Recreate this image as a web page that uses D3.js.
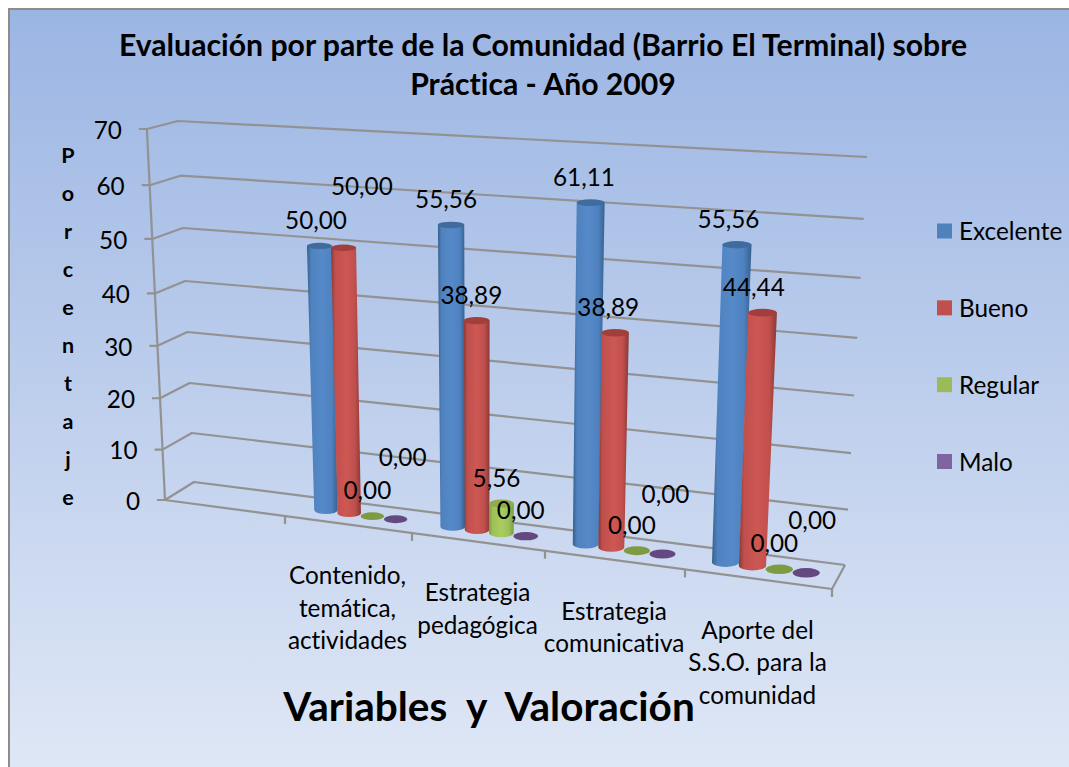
<!DOCTYPE html>
<html><head><meta charset="utf-8">
<script src="https://cdn.jsdelivr.net/npm/d3@7"></script>
<style>html,body{margin:0;padding:0;background:#fff}svg{display:block}text{font-family:Lato,"Open Sans",sans-serif;fill:#000;font-variant-ligatures:none;font-feature-settings:"liga" 0,"clig" 0}</style>
</head><body><svg id="c" width="1069" height="767"></svg>
<script>
const titleLines = ["Evaluación por parte de la Comunidad (Barrio El Terminal) sobre", "Práctica - Año 2009"];
const xTitle = "Variables  y  Valoración";
const yTitle = "Porcentaje";
const yTicks = [0, 10, 20, 30, 40, 50, 60, 70];
const categories = [
  [""],
  ["Contenido,", "temática,", "actividades"],
  ["Estrategia", "pedagógica"],
  ["Estrategia", "comunicativa"],
  ["Aporte del", "S.S.O. para la", "comunidad"]
];
const seriesNames = ["Excelente", "Bueno", "Regular", "Malo"];
const excelente = [null, 50.00, 55.56, 61.11, 55.56];
const bueno     = [null, 50.00, 38.89, 38.89, 44.44];
const regular   = [null, 0.00, 5.56, 0.00, 0.00];
const malo      = [null, 0.00, 0.00, 0.00, 0.00];
const seriesValues = [excelente, bueno, regular, malo];

const colors = [
  {key:"#4F81BD", edge:"#36618f", mid:"#4f82bf", light:"#5589c8", top:"#3f6b9f", flat:"#3f6b9f"},
  {key:"#C0504D", edge:"#8a3835", mid:"#c0504d", light:"#cd5753", top:"#a13f3c", flat:"#a13f3c"},
  {key:"#9BBB59", edge:"#7d9a43", mid:"#9dc057", light:"#a9cd60", top:"#8eac4e", flat:"#7f9b42"},
  {key:"#8064A2", edge:"#5d4679", mid:"#8064a2", light:"#8a6daf", top:"#63497f", flat:"#63497f"}
];
// manually displaced data labels in the source chart: [category, series] -> shift
const labelNudge = new Map([["1|1",[22,-36]],["1|3",[12,-36]],["3|3",[8,-34]],["4|3",[11,-27]]]);

const svg = d3.select("#c");
const defs = svg.append("defs");
const bg = defs.append("linearGradient").attr("id","bg").attr("x1",0).attr("y1",0).attr("x2",0).attr("y2",1);
bg.append("stop").attr("offset",0).attr("stop-color","#9bb5e3");
bg.append("stop").attr("offset",1).attr("stop-color","#e0e8f6");
colors.forEach((c,i)=>{
  const g = defs.append("linearGradient").attr("id","cyl"+i).attr("x1",0).attr("y1",0).attr("x2",1).attr("y2",0);
  [[0,c.edge],[.14,c.mid],[.5,c.light],[.8,c.mid],[1,c.edge]].forEach(s=>g.append("stop").attr("offset",s[0]).attr("stop-color",s[1]));
});
svg.append("rect").attr("x",9).attr("y",9).attr("width",1070).attr("height",770)
  .attr("fill","url(#bg)").attr("stroke","#8c8c8c").attr("stroke-width",2);

// ---- perspective scales
const nCat = categories.length;
const xFront = d3.scaleLinear().domain(d3.range(nCat+1)).range([165,285,412,545,685,832]);
const xBackFromFront = d3.scaleLinear().domain([165,832]).range([194,845]);
const yFrontLine = d3.scaleLinear().domain([165,832]).range([500,589]);
const yBackLine = d3.scaleLinear().domain([194,845]).range([482,565]);
const hFrac = d3.scaleLinear().domain(yTicks).range([0,.1357,.2742,.4155,.5568,.7036,.8485,1]);
const ryRatio = d3.scaleLinear().domain([200,570]).range([.24,.35]);
const VP = [490,7157];
function floor(u,d){
  const xf = xFront(u), yf = yFrontLine(xf);
  const xb = xBackFromFront(xf), yb = yBackLine(xb);
  return [xb+(xf-xb)*d, yb+(yf-yb)*d];
}
function lift(p,v){
  const H70 = 361 + .00115*(p[0]-194) + .5574*(p[1]-482);
  const h = H70*hFrac(v);
  return [p[0]+(p[0]-VP[0])/(VP[1]-p[1])*h, p[1]-h];
}
const line = d3.line();
const gridC = "#929292";
const grid = svg.append("g").attr("fill","none").attr("stroke",gridC).attr("stroke-width",2.2).attr("stroke-linejoin","round");
const fs = 24.3;

// walls and floor
yTicks.forEach(v=>{
  const f = lift(floor(0,1),v), b = lift(floor(0,0),v), r = lift(floor(nCat,0),v);
  grid.append("path").attr("d",line([[f[0]-8,f[1]],f,b,r]));
  svg.append("text").attr("x",f[0]-25).attr("y",f[1]+3.5).attr("text-anchor","end").attr("dominant-baseline","middle").attr("font-size",fs).text(v);
});
grid.append("path").attr("d",line([floor(0,1),lift(floor(0,1),70)]));
grid.append("path").attr("d",line([floor(0,1),floor(nCat,1),floor(nCat,0)]));
d3.range(1,nCat+1).forEach(i=>{
  const p = floor(i,1);
  grid.append("path").attr("d",line([p,[p[0],p[1]+8]]));
});

// cylinders
const barStep = .185;
const barsG = svg.append("g");
const labels = [];
seriesValues.forEach((vals,s)=>{
  vals.forEach((v,i)=>{
    if(v===null) return;
    const u = i+.5+(s-1.5)*barStep;
    const base = floor(u,.5);
    const top = lift(base,v);
    top[1] += .0035*(base[1]-top[1]);
    const w = (xFront(i+1)-xFront(i))*barStep;
    const rx = w/2, rt = rx*(1+.09*hFrac(v));
    const ry = rx*ryRatio(base[1]), ryT = rt*ryRatio(top[1]);
    const c = colors[s];
    if(v>0){
      barsG.append("path").attr("fill",`url(#cyl${s})`)
        .attr("d",`M${base[0]-rx},${base[1]}L${top[0]-rt},${top[1]}L${top[0]+rt},${top[1]}L${base[0]+rx},${base[1]}A${rx},${ry} 0 0 1 ${base[0]-rx},${base[1]}Z`);
    }
    barsG.append("ellipse").attr("cx",top[0]).attr("cy",top[1]).attr("rx",rt).attr("ry",ryT).attr("fill",v>0?c.top:c.flat);
    const n = labelNudge.get(i+"|"+s)||[0,0];
    labels.push({x:top[0]-5+(top[1]<400?(top[0]-450)*-.012:0)+n[0], y:top[1]-23+n[1], t:d3.format(".2f")(v).replace(".",",")});
  });
});
svg.append("g").selectAll("text").data(labels).join("text")
  .attr("x",d=>d.x).attr("y",d=>d.y).attr("text-anchor","middle").attr("dominant-baseline","middle")
  .attr("font-size",fs).text(d=>d.t);

// category labels
categories.forEach((lines,i)=>{
  const p = floor(i+.5,1);
  lines.forEach((t,k)=>{
    svg.append("text").attr("x",p[0]-1).attr("y",p[1]+53.5+k*32.5).attr("text-anchor","middle").attr("dominant-baseline","middle").attr("font-size",fs).text(t);
  });
});

// titles
titleLines.forEach((t,k)=>svg.append("text").attr("x",543).attr("y",48+k*39).attr("text-anchor","middle").attr("dominant-baseline","middle").attr("font-size",30.2).attr("font-weight",700).text(t));
svg.append("text").attr("x",489).attr("y",711).attr("text-anchor","middle").attr("dominant-baseline","middle").attr("font-size",40.5).attr("font-weight",700).attr("xml:space","preserve").style("white-space","pre").text(xTitle);
yTitle.split("").forEach((ch,k)=>svg.append("text").attr("x",68).attr("y",157+k*38.1).attr("text-anchor","middle").attr("dominant-baseline","middle").attr("font-size",21.5).attr("font-weight",700).text(ch));

// legend
const legendY = d3.scalePoint().domain(seriesNames).range([231,461.5]);
seriesNames.forEach((n,i)=>{
  svg.append("rect").attr("x",937).attr("y",legendY(n)-7.5).attr("width",15).attr("height",15).attr("fill",colors[i].key);
  svg.append("text").attr("x",959).attr("y",legendY(n)+3).attr("dominant-baseline","middle").attr("font-size",fs).text(n);
});
</script></body></html>
